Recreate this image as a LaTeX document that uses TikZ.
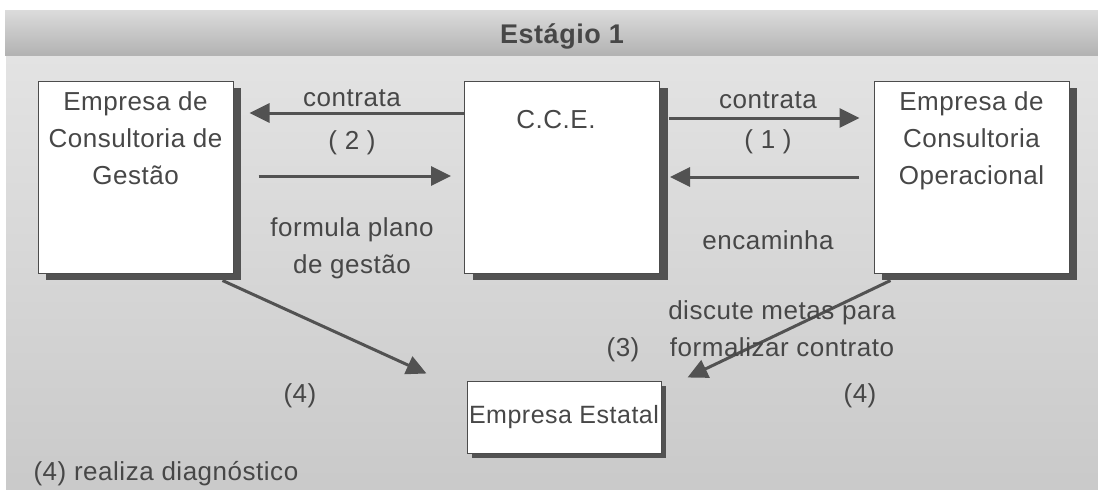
\documentclass[tikz,border=0pt]{standalone}
\usepackage{fontspec}
\setmainfont{Liberation Sans}[LetterSpace=2]
\usetikzlibrary{positioning,arrows.meta,shadows}

\begin{document}
\begin{tikzpicture}[x=1pt,y=-1pt,
        font=\fontsize{26}{37}\selectfont, text=black!72,
        box/.style={draw=black!70, line width=1pt, fill=white, inner sep=0pt},
        bigbox/.style={box, minimum width=195pt, minimum height=192pt,
            drop shadow={shadow xshift=8pt, shadow yshift=-7pt, fill=black!68, opacity=1}},
        smallbox/.style={box, minimum width=194pt, minimum height=72pt,
            drop shadow={shadow xshift=5pt, shadow yshift=-5pt, fill=black!68, opacity=1}},
        boxtext/.style={align=center, anchor=north},
        arr/.style={draw=black!68, line width=3pt, -{Triangle[length=20pt,width=19pt]}}]
        \useasboundingbox (0,0) rectangle (1098,490);
        % background
        \shade[top color=black!11, bottom color=black!21] (6,56) rectangle (1098,490);
        \shade[top color=black!14, middle color=black!6, bottom color=black!30] (5,10) rectangle (1098,55);
        \node[font=\fontsize{27}{30}\selectfont\bfseries] (T) at (562,36) {Estágio 1};
        % boxes
        \node[bigbox] (ECG) at (135.5,177) {};
        \node[bigbox] (CCE) at (562,177) {};
        \node[bigbox] (ECO) at (971.5,177) {};
        \node[smallbox, font=\fontsize{25}{30}\selectfont] (EE) at (564,417) {Empresa Estatal};
        \node[boxtext, below=8pt of ECG.north] {Empresa de\\Consultoria de\\Gestão};
        \node[boxtext, below=26pt of CCE.north, xshift=-6pt] {C.C.E.};
        \node[boxtext, below=8pt of ECO.north] {Empresa de\\Consultoria\\Operacional};
        % arrows
        \draw[arr, shorten >=16pt] ([yshift=64pt]CCE.west) -- ([yshift=64pt]ECG.east);
        \draw[arr, shorten <=25pt, shorten >=13pt] ([yshift=1pt]ECG.east) -- ([yshift=1pt]CCE.west);
        \draw[arr, shorten <=9pt, shorten >=14pt] ([yshift=59pt]CCE.east) -- ([yshift=59pt]ECO.west);
        \draw[arr, shorten <=15pt, shorten >=10pt] ([yshift=0pt]ECO.west) -- ([yshift=0pt]CCE.east);
        \draw[arr] ([xshift=-11pt,yshift=-7pt]ECG.south east) -- ([xshift=-40pt,yshift=7pt]EE.north west);
        \draw[arr] ([xshift=17pt,yshift=-7pt]ECO.south west) -- ([xshift=26pt,yshift=3pt]EE.north east);
        % labels
        \node at (352,98) {contrata};
        \node at (352,143) {( 2 )};
        \node[align=center] at (352,248) {formula plano\\de gestão};
        \node at (768,100) {contrata};
        \node at (768,142) {( 1 )};
        \node at (768,240) {encaminha};
        \node[align=center] at (782,329) {discute metas para\\formalizar contrato};
        \node at (623,350) {(3)};
        \node at (300,396) {(4)};
        \node at (860,396) {(4)};
        \node[anchor=west] at (30,474) {(4) realiza diagnóstico};
\end{tikzpicture}
\end{document}
